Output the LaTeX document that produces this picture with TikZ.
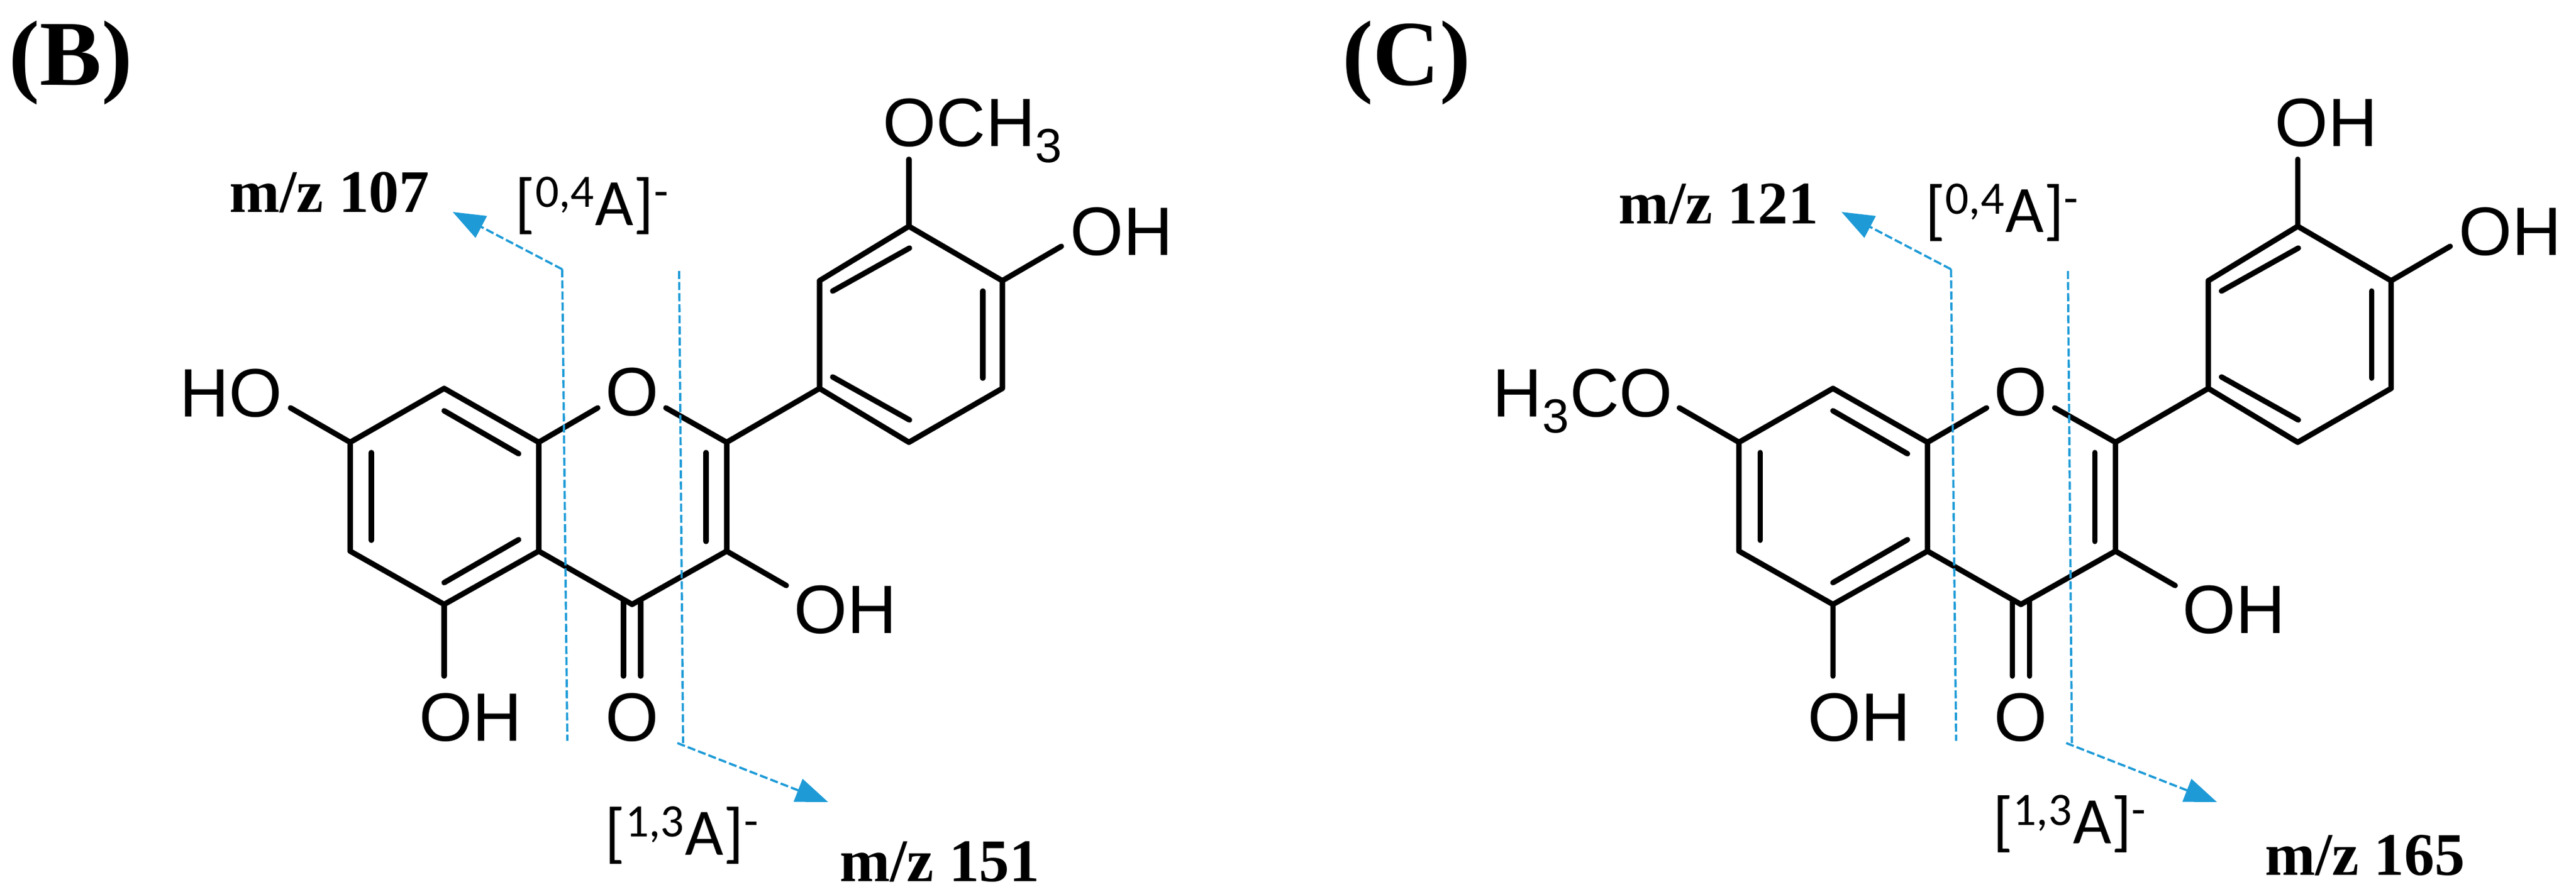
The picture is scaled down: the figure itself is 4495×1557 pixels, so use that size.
\documentclass[tikz,border=0pt]{standalone}
\usepackage{fontspec}
\setmainfont{Liberation Sans}
\newfontfamily\timesb{Liberation Serif}
\newfontfamily\carfont{Carlito}
\usetikzlibrary{arrows.meta}
\definecolor{cut}{RGB}{30,155,215}
\tikzset{
 bond/.style={line width=2.7pt,line cap=round,line join=round},
 atom/.style={font=\fontsize{34}{34}\selectfont,inner sep=0pt,anchor=base},
 mz/.style={font=\timesb\bfseries\fontsize{30}{30}\selectfont,inner sep=0pt,anchor=base west},
 frag/.style={font=\carfont\fontsize{33}{33}\selectfont,inner sep=0pt,anchor=base west},
 panel/.style={font=\timesb\bfseries\fontsize{46}{46}\selectfont,inner sep=0pt,anchor=base west},
 cutline/.style={cut,line width=1.1pt,dash pattern=on 4pt off 1.5pt},
 cutarrow/.style={cutline,-{Triangle[length=16pt,width=12pt]}}
}
\newcommand\flavcore[1]{%
 \coordinate (#1a) at (775,678); \coordinate (#1b) at (940,772);
 \coordinate (#1c) at (940,962); \coordinate (#1d) at (775,1055);
 \coordinate (#1e) at (611,962); \coordinate (#1f) at (611,772);
 \coordinate (#1c2) at (1268,772); \coordinate (#1c3) at (1268,962);
 \coordinate (#1c4) at (1103,1055);
 \coordinate (#1p1) at (1430,678); \coordinate (#1p2) at (1430,490);
 \coordinate (#1p3) at (1586,395); \coordinate (#1p4) at (1749,490);
 \coordinate (#1p5) at (1749,678); \coordinate (#1p6) at (1586,772);
 \draw[bond] (#1a)--(#1b)--(#1c)--(#1d)--(#1e)--(#1f)--cycle;
 \draw[bond] (#1c)--(#1c4)--(#1c3)--(#1c2)--(#1p1);
 \draw[bond] (#1b)--(1043,712); \draw[bond] (1162,712)--(#1c2);
 \draw[bond] (#1p1)--(#1p2)--(#1p3)--(#1p4)--(#1p5)--(#1p6)--cycle;
 \draw[bond] (775,717)--(905,792); \draw[bond] (648,790)--(648,943);
 \draw[bond] (775,1017)--(905,942); \draw[bond] (1232,790)--(1232,945);
 \draw[bond] (1453,508)--(1587,433); \draw[bond] (1715,508)--(1715,660);
 \draw[bond] (1453,658)--(1587,733);
 \draw[bond] (1088,1050)--(1088,1180); \draw[bond] (1118,1050)--(1118,1180);
 \draw[bond] (#1d)--(775,1180); \draw[bond] (#1c3)--(1372,1022);
 \draw[bond] (#1f)--(507,712); \draw[bond] (#1p4)--(1852,430);
 \draw[bond] (#1p3)--(1586,278);
 \node[atom] (#1Oring) at (1103,725) {O};
 \node[atom] (#1Oket) at (1103,1293) {O};
 \node[atom] (#1OH5) at (821,1293) {OH};
 \node[atom] (#1OH3) at (1475,1105) {OH};
 \node[atom] (#1OH4p) at (1957,445) {OH};
 \coordinate (#1L1) at (981,470); \coordinate (#1L2) at (990,1293);
 \coordinate (#1R1) at (1185,473); \coordinate (#1R2) at (1192,1297);
 \coordinate (#1R3) at (1182,1297);
 \coordinate (#1T1) at (790,370); \coordinate (#1T2) at (1445,1400);
 \draw[cutline] (#1L1)--(#1L2); \draw[cutline] (#1R1)--(#1R2);
 \draw[cutarrow] (#1L1)--(#1T1); \draw[cutarrow] (#1R3)--(#1T2);
}
\begin{document}
\begin{tikzpicture}[x=0.01cm,y=-0.01cm]
\useasboundingbox (0,0) rectangle (4495,1557);
\begin{scope}
 \flavcore{B}
 \node[atom] (BHO7) at (403,727) {HO};
 \node[atom,anchor=base west] (BOMe) at (1540,255) {OCH\textsubscript{3}};
 \node[mz] (Bm1) at (400,370) {m/z 107};
 \node[frag] (Bf1) at (898,393) {[\textsuperscript{0,4}A]\textsuperscript{-}};
 \node[frag] (Bf2) at (1055,1492) {[\textsuperscript{1,3}A]\textsuperscript{-}};
 \node[mz] (Bm2) at (1465,1538) {m/z 151};
 \node[panel] (Bp) at (15,148) {(B)};
\end{scope}
\begin{scope}[xshift=24.22cm]
 \flavcore{C}
 \node[atom,anchor=base east] (CMeO7) at (496,727) {H\textsubscript{3}CO};
 \node[atom] (COH3p) at (1636,255) {OH};
 \node[mz] (Cm1) at (400,390) {m/z 121};
 \node[frag] (Cf1) at (935,405) {[\textsuperscript{0,4}A]\textsuperscript{-}};
 \node[frag] (Cf2) at (1053,1472) {[\textsuperscript{1,3}A]\textsuperscript{-}};
 \node[mz] (Cm2) at (1528,1527) {m/z 165};
 \node[panel] (Cp) at (-82,148) {(C)};
\end{scope}
\end{tikzpicture}
\end{document}
